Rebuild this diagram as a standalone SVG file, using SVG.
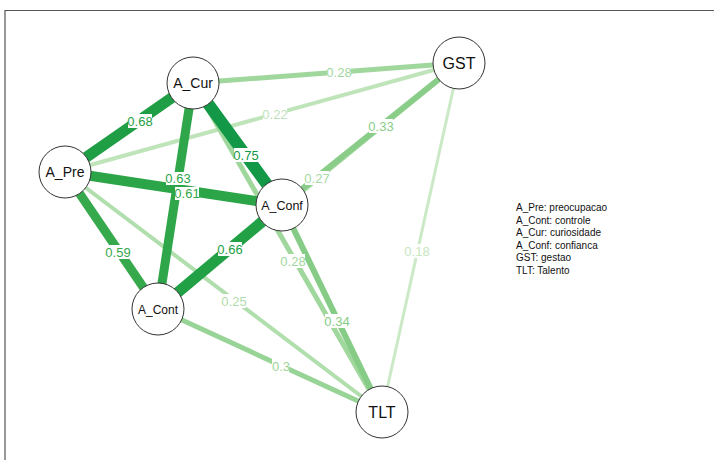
<svg xmlns="http://www.w3.org/2000/svg" width="714" height="460" viewBox="0 0 714 460">
<style>
.n circle{fill:#fff;stroke:#333;stroke-width:1}
.n text{font-family:"Liberation Sans",Arial,sans-serif;fill:#111;text-anchor:middle}
.e line{stroke-linecap:butt}
.lb rect{fill:#fff}
.lb text{font-family:"Liberation Sans",Arial,sans-serif;font-size:13px;text-anchor:middle}
.lg text{font-family:"Liberation Sans",Arial,sans-serif;font-size:10px;fill:#111}
</style>
<rect x="0" y="0" width="714" height="460" fill="#fff"/>
<path d="M5 460 V10.5 H714" fill="none" stroke="#555" stroke-width="1.2"/>
<g id="connectors" class="e">
<line x1="459" y1="63" x2="382" y2="412" stroke="#cbe9c6" stroke-width="3"/>
<line x1="65" y1="172" x2="459" y2="63" stroke="#bfe4ba" stroke-width="4"/>
<line x1="65" y1="172" x2="382" y2="412" stroke="#b0deac" stroke-width="4"/>
<line x1="158" y1="309" x2="459" y2="63" stroke="#a5d9a2" stroke-width="5"/>
<line x1="193" y1="83" x2="459" y2="63" stroke="#a0d79d" stroke-width="5"/>
<line x1="193" y1="83" x2="382" y2="412" stroke="#a0d79d" stroke-width="5"/>
<line x1="158" y1="309" x2="382" y2="412" stroke="#99d497" stroke-width="5"/>
<line x1="282" y1="205" x2="459" y2="63" stroke="#8acd88" stroke-width="6"/>
<line x1="282" y1="205" x2="382" y2="412" stroke="#86cc86" stroke-width="6"/>
<line x1="65" y1="172" x2="158" y2="309" stroke="#36a94c" stroke-width="9"/>
<line x1="193" y1="83" x2="158" y2="309" stroke="#30a64a" stroke-width="9"/>
<line x1="65" y1="172" x2="282" y2="205" stroke="#2ca549" stroke-width="10"/>
<line x1="282" y1="205" x2="158" y2="309" stroke="#22a046" stroke-width="11"/>
<line x1="65" y1="172" x2="193" y2="83" stroke="#1f9e45" stroke-width="11"/>
<line x1="193" y1="83" x2="282" y2="205" stroke="#139847" stroke-width="12"/>
</g>
<g id="edge-labels" class="lb">
<rect x="405" y="244" width="24" height="14"/><text x="417" y="256" fill="#c4e6c0">0.18</text>
<rect x="263" y="107" width="24" height="14"/><text x="275" y="119" fill="#bfe4ba">0.22</text>
<rect x="222" y="294" width="24" height="14"/><text x="234" y="306" fill="#b0deac">0.25</text>
<rect x="305" y="171" width="24" height="14"/><text x="317" y="183" fill="#a5d9a2">0.27</text>
<rect x="327" y="65" width="24" height="14"/><text x="339" y="77" fill="#a0d79d">0.28</text>
<rect x="281" y="254" width="24" height="14"/><text x="293" y="266" fill="#a0d79d">0.28</text>
<rect x="272" y="359" width="17" height="14"/><text x="281" y="371" fill="#99d497">0.3</text>
<rect x="369" y="119" width="24" height="14"/><text x="381" y="131" fill="#8acd88">0.33</text>
<rect x="325" y="314" width="24" height="14"/><text x="337" y="326" fill="#86cc86">0.34</text>
<rect x="106" y="245" width="24" height="14"/><text x="118" y="257" fill="#36a94c">0.59</text>
<rect x="166" y="172" width="24" height="13"/><text x="178" y="183" fill="#2ca549">0.63</text>
<rect x="175" y="187" width="24" height="13"/><text x="187" y="198" fill="#30a64a">0.61</text>
<rect x="218" y="242" width="24" height="14"/><text x="230" y="254" fill="#22a046">0.66</text>
<rect x="128" y="114" width="24" height="14"/><text x="140" y="126" fill="#1f9e45">0.68</text>
<rect x="234" y="148" width="24" height="14"/><text x="246" y="160" fill="#139847">0.75</text>
</g>
<g id="A_Cur" class="n"><circle cx="193" cy="83" r="26"/><text x="193" y="88" font-size="14">A_Cur</text></g>
<g id="A_Pre" class="n"><circle cx="65" cy="172" r="26"/><text x="65" y="177" font-size="14">A_Pre</text></g>
<g id="A_Conf" class="n"><circle cx="282" cy="205" r="26"/><text x="282" y="209.5" font-size="12.5">A_Conf</text></g>
<g id="A_Cont" class="n"><circle cx="158" cy="309" r="26"/><text x="158" y="313.5" font-size="12">A_Cont</text></g>
<g id="GST" class="n"><circle cx="459" cy="63" r="26"/><text x="459" y="69" font-size="16">GST</text></g>
<g id="TLT" class="n"><circle cx="382" cy="412" r="26"/><text x="382" y="418" font-size="16">TLT</text></g>
<g id="legend" class="lg">
<text x="516" y="211">A_Pre: preocupacao</text>
<text x="516" y="223.5">A_Cont: controle</text>
<text x="516" y="236">A_Cur: curiosidade</text>
<text x="516" y="248.5">A_Conf: confianca</text>
<text x="516" y="261">GST: gestao</text>
<text x="516" y="273.5">TLT: Talento</text>
</g>
</svg>
